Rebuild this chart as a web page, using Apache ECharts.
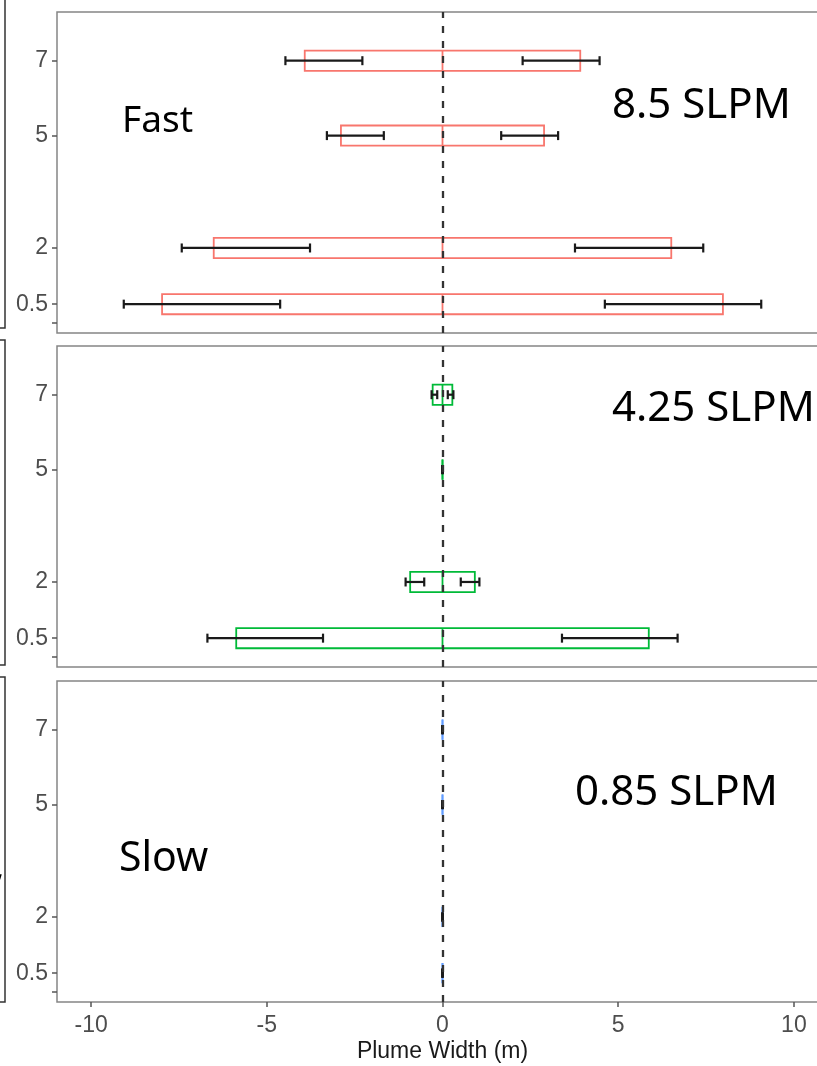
<!DOCTYPE html>
<html>
<head>
<meta charset="utf-8">
<script src="https://cdn.jsdelivr.net/npm/echarts@6/dist/echarts.min.js"></script>
<style>
html,body{margin:0;padding:0;background:#fff;}
#chart{width:817px;height:1066px;}
</style>
</head>
<body>
<div id="chart"></div>
<script>
// ---- data ----
const rowValues = [0.5, 2, 5, 7];
const fastHalfWidth = [7.98, 6.51, 2.89, 3.92];
const fastErrInner = [4.62, 3.77, 1.67, 2.28];
const fastErrOuter = [9.07, 7.42, 3.29, 4.47];
const mediumHalfWidth = [5.87, 0.92, 0, 0.28];
const mediumErrInner = [3.40, 0.52, 0, 0.15];
const mediumErrOuter = [6.69, 1.05, 0, 0.31];
const slowHalfWidth = [0, 0, 0, 0];
const slowErrInner = [0, 0, 0, 0];
const slowErrOuter = [0, 0, 0, 0];
const xTicks = [-10, -5, 0, 5, 10];
const yTicks = [0, 0.5, 2, 5, 7];
const yTickLabels = ['', '0.5', '2', '5', '7'];
const panelLabels = ['8.5 SLPM', '4.25 SLPM', '0.85 SLPM'];
const speedLabels = ['Fast', 'Slow'];
const xAxisTitle = 'Plume Width (m)';

// ---- layout / style ----
const panelColors = ['#F8766D', '#00BA38', '#619CFF'];
const panelTops = [12, 346, 681];
const panelHeight = 321;
const gridLeft = 57, gridWidth = 771;
const X_MIN = -10.97, X_MAX = 10.97, Y_MIN = -0.27, Y_MAX = 8.3;
const BOX_HALF = 0.27;

const panels = [
  {half: fastHalfWidth, inner: fastErrInner, outer: fastErrOuter},
  {half: mediumHalfWidth, inner: mediumErrInner, outer: mediumErrOuter},
  {half: slowHalfWidth, inner: slowErrInner, outer: slowErrOuter}
];

const axisFont = '"Liberation Sans", Arial, sans-serif';
const grids = [], xAxes = [], yAxes = [], series = [];

panels.forEach((p, i) => {
  grids.push({left: gridLeft, top: panelTops[i], width: gridWidth, height: panelHeight,
    outerBoundsMode: 'none', containLabel: false,
    show: true, borderColor: '#858585', borderWidth: 1.5, backgroundColor: 'transparent'});
  const isBottom = i === panels.length - 1;
  xAxes.push({
    type: 'value', gridIndex: i, min: X_MIN, max: X_MAX, position: 'bottom',
    axisLine: {show: false, onZero: false}, splitLine: {show: false},
    axisTick: {show: isBottom, customValues: xTicks, length: 5, lineStyle: {color: '#555', width: 1.5}},
    axisLabel: {show: isBottom, customValues: xTicks, color: '#4D4D4D', fontSize: 23, fontFamily: axisFont, margin: 12},
    name: isBottom ? xAxisTitle : '', nameLocation: 'middle', nameGap: 38,
    nameTextStyle: {color: '#1a1a1a', fontSize: 23, fontFamily: axisFont}
  });
  yAxes.push({
    type: 'value', gridIndex: i, min: Y_MIN, max: Y_MAX, position: 'left',
    axisLine: {show: false, onZero: false}, splitLine: {show: false},
    axisTick: {show: true, customValues: yTicks, length: 5, lineStyle: {color: '#555', width: 1.5}},
    axisLabel: {customValues: yTicks, color: '#4D4D4D', fontSize: 23, fontFamily: axisFont, margin: 9,
      formatter: v => { const k = yTicks.indexOf(v); return k >= 0 ? yTickLabels[k] : ''; }}
  });

  const boxData = rowValues.map((y, k) => [p.half[k], y]);
  const errData = rowValues.map((y, k) => [p.inner[k], p.outer[k], y]);
  const color = panelColors[i];

  series.push({
    type: 'custom', xAxisIndex: i, yAxisIndex: i, z: 2, silent: true,
    data: boxData,
    renderItem: (params, api) => {
      const h = api.value(0), y = api.value(1);
      const a = api.coord([-h, y]), b = api.coord([h, y]), c = api.coord([0, y]);
      const dy = api.size([0, BOX_HALF])[1];
      return {type: 'group', children: [
        {type: 'rect', shape: {x: a[0], y: a[1] - dy, width: b[0] - a[0], height: 2 * dy},
          style: {fill: 'none', stroke: color, lineWidth: 1.8}},
        {type: 'line', shape: {x1: c[0], y1: c[1] - dy, x2: c[0], y2: c[1] + dy},
          style: {stroke: color, lineWidth: 1.8}}
      ]};
    }
  });

  series.push({
    type: 'line', xAxisIndex: i, yAxisIndex: i, z: 3, silent: true,
    data: [], symbol: 'none',
    markLine: {silent: true, symbol: 'none', label: {show: false},
      lineStyle: {color: '#333', type: [7, 8], width: 2.3},
      data: [{xAxis: 0}]}
  });

  series.push({
    type: 'custom', xAxisIndex: i, yAxisIndex: i, z: 4, silent: true,
    data: errData,
    renderItem: (params, api) => {
      const inner = api.value(0), outer = api.value(1), y = api.value(2);
      const cap = 4.5;
      const segs = [[-outer, -inner], [inner, outer]];
      const children = [];
      segs.forEach(s => {
        const a = api.coord([s[0], y]), b = api.coord([s[1], y]);
        const st = {stroke: '#1a1a1a', lineWidth: 2.2};
        children.push({type: 'line', shape: {x1: a[0], y1: a[1], x2: b[0], y2: b[1]}, style: st});
        children.push({type: 'line', shape: {x1: a[0], y1: a[1] - cap, x2: a[0], y2: a[1] + cap}, style: st});
        children.push({type: 'line', shape: {x1: b[0], y1: b[1] - cap, x2: b[0], y2: b[1] + cap}, style: st});
      });
      return {type: 'group', children: children};
    }
  });
});

const labelFont = '"Noto Sans", "Open Sans", sans-serif';
const graphic = [
  // cut-off neighbouring strip boxes at the left edge
  {type: 'rect', shape: {x: -20, y: -5, width: 25, height: 333}, style: {fill: 'none', stroke: '#333', lineWidth: 1.5}},
  {type: 'rect', shape: {x: -20, y: 340, width: 25, height: 325}, style: {fill: 'none', stroke: '#333', lineWidth: 1.5}},
  {type: 'rect', shape: {x: -20, y: 677, width: 25, height: 325}, style: {fill: 'none', stroke: '#333', lineWidth: 1.5}},
  {type: 'text', x: -6, y: 848, style: {text: ',', font: '40px ' + labelFont, fill: '#000'}},
  {type: 'text', x: 122, y: 121, style: {text: speedLabels[0], font: '37px ' + labelFont, fill: '#000', verticalAlign: 'middle'}},
  {type: 'text', x: 119, y: 859, style: {text: speedLabels[1], font: '41px ' + labelFont, fill: '#000', verticalAlign: 'middle'}},
  {type: 'text', x: 612, y: 106, style: {text: panelLabels[0], font: '42px ' + labelFont, fill: '#000', verticalAlign: 'middle'}},
  {type: 'text', x: 612, y: 409, style: {text: panelLabels[1], font: '42px ' + labelFont, fill: '#000', verticalAlign: 'middle'}},
  {type: 'text', x: 575, y: 793, style: {text: panelLabels[2], font: '42px ' + labelFont, fill: '#000', verticalAlign: 'middle'}}
];

const chart = echarts.init(document.getElementById('chart'), null, {renderer: 'canvas'});
chart.setOption({
  animation: false,
  backgroundColor: '#fff',
  grid: grids, xAxis: xAxes, yAxis: yAxes, series: series, graphic: graphic
});
</script>
</body>
</html>
